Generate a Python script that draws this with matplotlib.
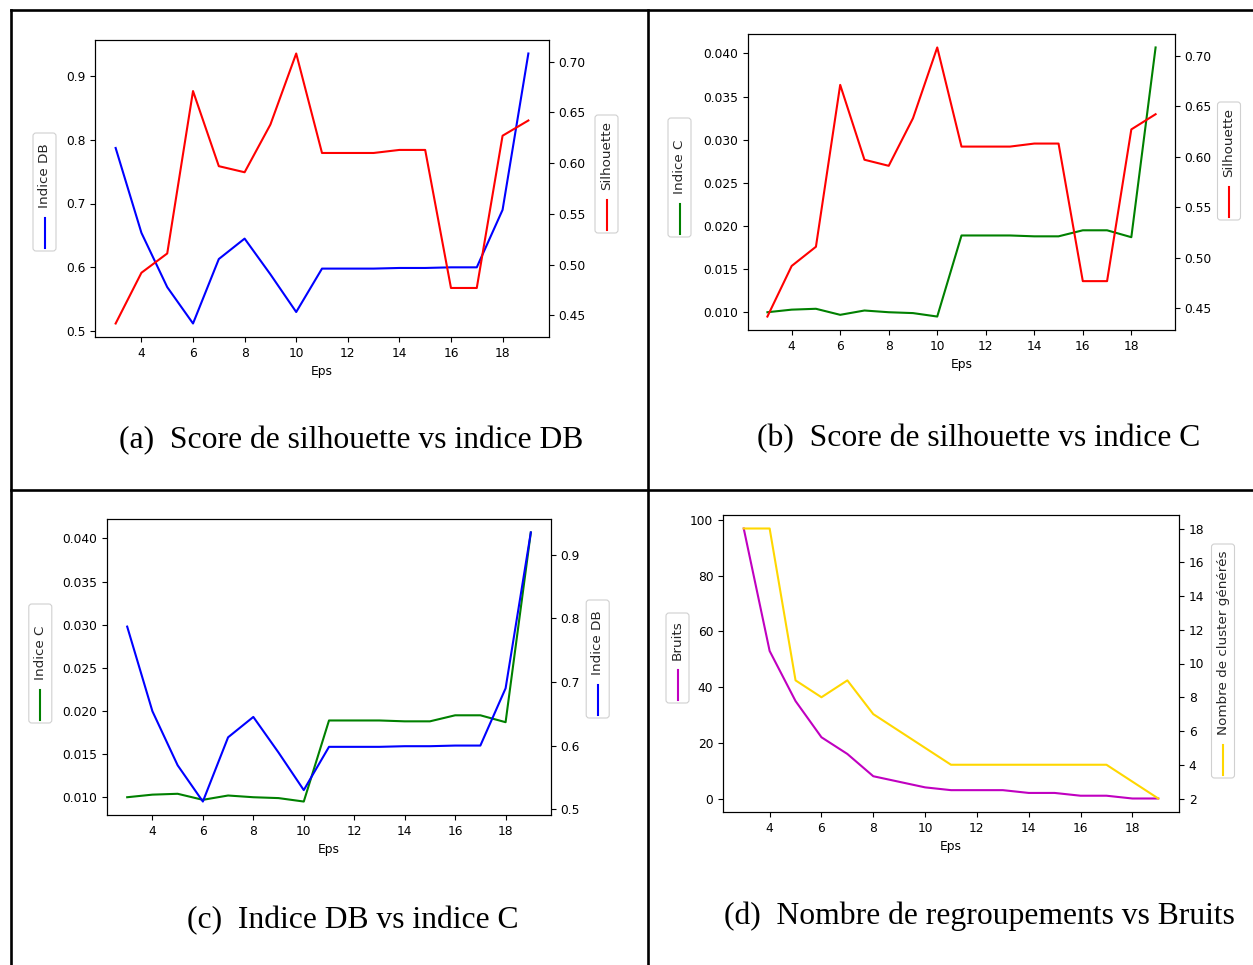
import matplotlib
matplotlib.use("Agg")
import matplotlib.pyplot as plt
from matplotlib.lines import Line2D
from matplotlib.patches import FancyBboxPatch
from matplotlib.transforms import IdentityTransform

# ------------------------------------------------------------
# Données (Eps = 3 ... 19)
# ------------------------------------------------------------
eps = [3, 4, 5, 6, 7, 8, 9, 10, 11, 12, 13, 14, 15, 16, 17, 18, 19]
indice_db = [0.787, 0.654, 0.569, 0.512, 0.613, 0.645, 0.589, 0.530, 0.598,
             0.598, 0.598, 0.599, 0.599, 0.600, 0.600, 0.690, 0.935]
silhouette = [0.442, 0.492, 0.511, 0.671, 0.597, 0.591, 0.638, 0.708, 0.610,
              0.610, 0.610, 0.613, 0.613, 0.477, 0.477, 0.627, 0.642]
indice_c = [0.0100, 0.0103, 0.0104, 0.0097, 0.0102, 0.0100, 0.0099, 0.0095,
            0.0189, 0.0189, 0.0189, 0.0188, 0.0188, 0.0195, 0.0195, 0.0187, 0.0407]
bruits = [97, 53, 35, 22, 16, 8, 6, 4, 3, 3, 3, 2, 2, 1, 1, 0, 0]
nb_clusters = [18, 18, 9, 8, 9, 7, 6, 5, 4, 4, 4, 4, 4, 4, 4, 3, 2]

captions = ["(a)  Score de silhouette vs indice DB",
            "(b)  Score de silhouette vs indice C",
            "(c)  Indice DB vs indice C",
            "(d)  Nombre de regroupements vs Bruits"]

W, H = 1253, 965
fig = plt.figure(figsize=(W / 100, H / 100), dpi=100)
fig.patch.set_facecolor("white")
PX = IdentityTransform()


def rect(l, t, r, b):
    return [l / W, 1 - b / H, (r - l) / W, (b - t) / H]


def vlegend(cx, top, bottom, label, color):
    # légende "tournée" de 90° : trait en bas, texte au-dessus
    box = FancyBboxPatch((cx - 11.5, H - bottom), 23, bottom - top,
                         boxstyle="round,pad=0,rounding_size=3",
                         transform=PX, fc="white", ec="#d0d0d0", lw=0.8)
    fig.add_artist(box)
    fig.add_artist(Line2D([cx, cx], [H - bottom + 3, H - bottom + 33],
                          transform=PX, color=color, lw=1.5))
    fig.text(cx, H - bottom + 43, label, transform=PX, rotation=90,
             ha="center", va="bottom", fontsize=9.7, color="#262626")


def panel(pos, y1, c1, y2, c2):
    ax = fig.add_axes(pos)
    ax.plot(eps, y1, color=c1, lw=1.5)
    ax.set_xticks([4, 6, 8, 10, 12, 14, 16, 18])
    ax.set_xlabel("Eps", fontsize=8.8)
    ax.tick_params(labelsize=8.8)
    ax2 = ax.twinx()
    ax2.plot(eps, y2, color=c2, lw=1.5)
    ax2.tick_params(labelsize=8.8)
    return ax, ax2


# (a) indice DB / silhouette
panel(rect(95, 40, 549, 337), indice_db, "#0000ff", silhouette, "#ff0000")
vlegend(44.5, 133, 251, "Indice DB", "#0000ff")
vlegend(606.5, 115, 233, "Silhouette", "#ff0000")

# (b) indice C / silhouette
panel(rect(748, 34, 1175, 330), indice_c, "#008000", silhouette, "#ff0000")
vlegend(679.5, 118, 237, "Indice C", "#008000")
vlegend(1229, 102, 220, "Silhouette", "#ff0000")

# (c) indice C / indice DB
panel(rect(107, 519, 551, 815), indice_c, "#008000", indice_db, "#0000ff")
vlegend(40.3, 604, 723, "Indice C", "#008000")
vlegend(597.7, 600, 718, "Indice DB", "#0000ff")

# (d) bruits / nombre de clusters
axd, axd2 = panel(rect(723, 515, 1179, 812), bruits, "#c000c0", nb_clusters, "#ffd700")
axd2.set_yticks([2, 4, 6, 8, 10, 12, 14, 16, 18])
vlegend(677.5, 613, 703, "Bruits", "#c000c0")
vlegend(1223, 544, 778, "Nombre de cluster générés", "#ffd700")

# légendes des sous-figures
cap_pos = [(351, 441), (978.5, 439), (352.5, 921), (979, 916)]
for (cx, cy), txt in zip(cap_pos, captions):
    fig.text(cx / W, 1 - cy / H, txt, ha="center", va="center",
             fontsize=22.8, family="Liberation Serif", color="black")

# cadre du tableau
lw = 1.9
fig.add_artist(Line2D([10.5, W], [H - 9.5, H - 9.5], transform=PX, color="black", lw=lw))
fig.add_artist(Line2D([10.5, 10.5], [0, H - 9.5], transform=PX, color="black", lw=lw))
fig.add_artist(Line2D([648, 648], [0, H - 9.5], transform=PX, color="black", lw=lw))
fig.add_artist(Line2D([10.5, W], [H - 490, H - 490], transform=PX, color="black", lw=lw))

fig.savefig("out.png", dpi=100)
